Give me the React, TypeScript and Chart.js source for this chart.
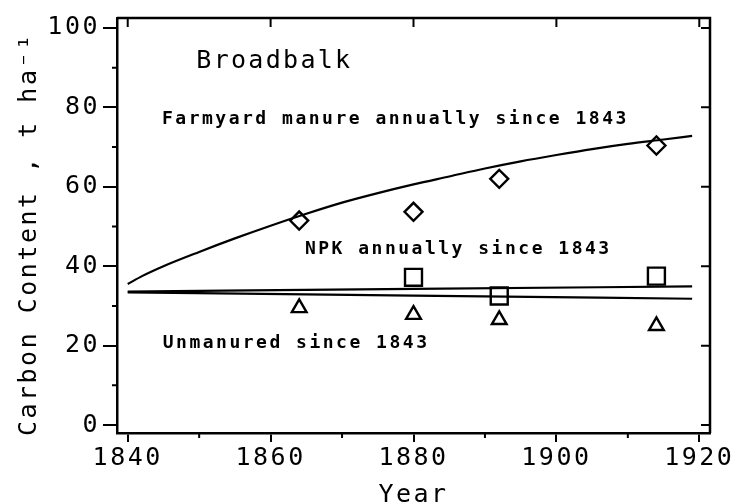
import React, { useEffect, useRef } from 'react';
import { Chart, registerables } from 'chart.js';

Chart.register(...registerables);

// ---- data ----
const fymYears = [1864, 1880, 1892, 1914];
const fymValues = [51.5, 53.7, 62.0, 70.4];
const npkYears = [1880, 1892, 1914];
const npkValues = [37.2, 32.5, 37.5];
const unmYears = [1864, 1880, 1892, 1914];
const unmValues = [29.5, 27.8, 26.5, 25.0];

const fymCurveYears = [1840, 1842, 1845, 1850, 1855, 1860, 1865, 1870, 1875, 1880, 1885, 1890, 1895, 1900, 1905, 1910, 1915, 1919];
const fymCurveValues = [35.5, 37.5, 40.0, 43.6, 47.0, 50.2, 53.2, 56.0, 58.4, 60.6, 62.6, 64.6, 66.4, 68.0, 69.5, 70.8, 71.9, 72.8];
const npkLineYears = [1840, 1880, 1919];
const npkLineValues = [33.6, 34.3, 34.9];
const unmLineYears = [1840, 1880, 1919];
const unmLineValues = [33.4, 32.6, 31.8];

const xTicks = [1840, 1860, 1880, 1900, 1920];
const xMinorTicks = [1850, 1870, 1890, 1910];
const yTicks = [0, 20, 40, 60, 80, 100];
const yMinorTicks = [10, 30, 50, 70, 90];

const noteTexts = ['Broadbalk', 'Farmyard manure annually since 1843', 'NPK annually since 1843', 'Unmanured since 1843'];
const noteYears = [1849.6, 1844.8, 1864.8, 1844.9];
const noteValues = [91.5, 77.1, 44.3, 20.6];
const noteBig = [true, false, false, false];

const FONT = "'DejaVu Sans Mono', 'Liberation Mono', monospace";

const pts = (xs: number[], ys: number[]) => xs.map((x, i) => ({ x, y: ys[i] }));

const spacingPlugin = {
  id: 'spacing',
  beforeUpdate(chart: any) { chart.ctx.letterSpacing = '2.5px'; },
  beforeLayout(chart: any) { chart.ctx.letterSpacing = '2.5px'; },
  beforeDraw(chart: any) { chart.ctx.letterSpacing = '2.5px'; },
};

const framePlugin = {
  id: 'frame',
  afterDraw(chart: any) {
    const { ctx, chartArea: a, scales } = chart;
    const xs = scales.x, ys = scales.y;
    ctx.save();
    ctx.strokeStyle = '#000';
    ctx.lineWidth = 2.5;
    ctx.beginPath();
    ctx.moveTo(a.left, a.top);
    ctx.lineTo(a.right, a.top);
    ctx.lineTo(a.right, a.bottom);
    ctx.stroke();
    ctx.lineWidth = 2;
    ctx.beginPath();
    // minor ticks outward left and bottom
    yMinorTicks.forEach(v => { const p = ys.getPixelForValue(v); ctx.moveTo(a.left - 5, p); ctx.lineTo(a.left, p); });
    xMinorTicks.forEach(v => { const p = xs.getPixelForValue(v); ctx.moveTo(p, a.bottom); ctx.lineTo(p, a.bottom + 5); });
    // inward ticks top and right
    xTicks.forEach(v => { const p = xs.getPixelForValue(v); ctx.moveTo(p, a.top); ctx.lineTo(p, a.top + 9); });
    yTicks.forEach(v => { const p = ys.getPixelForValue(v); ctx.moveTo(a.right, p); ctx.lineTo(a.right - 9, p); });
    ctx.stroke();
    // notes
    ctx.fillStyle = '#000';
    ctx.textBaseline = 'middle';
    ctx.textAlign = 'left';
    noteTexts.forEach((t, i) => {
      if (noteBig[i]) {
        ctx.font = `25px ${FONT}`;
        ctx.letterSpacing = '2.3px';
      } else {
        ctx.font = `bold 18px ${FONT}`;
        ctx.letterSpacing = '2.5px';
      }
      ctx.fillText(t, xs.getPixelForValue(noteYears[i]), ys.getPixelForValue(noteValues[i]));
    });
    ctx.restore();
  },
};

export default function App() {
  const ref = useRef<HTMLCanvasElement | null>(null);
  useEffect(() => {
    if (!ref.current) return;
    const lineDs = (xs: number[], ys: number[]) => ({
      data: pts(xs, ys),
      showLine: true,
      borderColor: '#000',
      borderWidth: 2.2,
      pointRadius: 0,
      tension: 0.4,
      cubicInterpolationMode: 'monotone' as const,
      fill: false,
    });
    const pointDs = (xs: number[], ys: number[], style: string, r: number) => ({
      data: pts(xs, ys),
      showLine: false,
      pointStyle: style,
      pointRadius: r,
      pointBorderWidth: 2.4,
      pointBorderColor: '#000',
      pointBackgroundColor: '#fff',
      borderColor: '#000',
      backgroundColor: '#fff',
    });
    const chart = new Chart(ref.current, {
      type: 'scatter',
      data: {
        datasets: [
          lineDs(fymCurveYears, fymCurveValues),
          lineDs(npkLineYears, npkLineValues),
          lineDs(unmLineYears, unmLineValues),
          pointDs(fymYears, fymValues, 'rectRot', 9),
          pointDs(npkYears, npkValues, 'rect', 12),
          pointDs(unmYears, unmValues, 'triangle', 8.5),
        ] as any,
      },
      options: {
        animation: false,
        responsive: false,
        devicePixelRatio: 1,
        layout: { padding: { top: 13, right: 31, left: 0, bottom: 0 } },
        plugins: { legend: { display: false }, tooltip: { enabled: false } },
        scales: {
          x: {
            type: 'linear',
            min: 1838.5,
            max: 1921.5,
            afterBuildTicks: (s: any) => { s.ticks = xTicks.map(v => ({ value: v })); },
            afterFit: (s: any) => { s.height = 71; },
            border: { display: true, color: '#000', width: 2.5 },
            grid: { drawOnChartArea: false, drawTicks: true, tickLength: 9, color: '#000', lineWidth: 2 },
            ticks: { color: '#000', font: { family: FONT, size: 25 }, padding: 1, maxRotation: 0, autoSkip: false, callback: (v: any) => String(v) },
            title: { display: true, text: 'Year', color: '#000', font: { family: FONT, size: 25, lineHeight: 0.8 }, padding: { top: 0, bottom: -1 } },
          },
          y: {
            type: 'linear',
            min: -2,
            max: 102.5,
            afterBuildTicks: (s: any) => { s.ticks = yTicks.map(v => ({ value: v })); },
            afterFit: (s: any) => { s.width = 117; },
            border: { display: true, color: '#000', width: 2.5 },
            grid: { drawOnChartArea: false, drawTicks: true, tickLength: 14, color: '#000', lineWidth: 2 },
            ticks: { color: '#000', font: { family: FONT, size: 25 }, padding: 3, autoSkip: false, callback: (v: any) => String(v) },
            title: { display: true, text: 'Carbon Content , t ha\u207B\u00B9 ', color: '#000', font: { family: FONT, size: 25, lineHeight: 1.2 }, padding: { top: 14, bottom: 0 } },
          },
        },
      },
      plugins: [spacingPlugin, framePlugin],
    } as any);
    return () => chart.destroy();
  }, []);
  return (
    <div style={{ position: 'absolute', left: 0, top: 0, width: 741, height: 504, background: '#fff' }}>
      <canvas ref={ref} width={741} height={504} />
    </div>
  );
}
